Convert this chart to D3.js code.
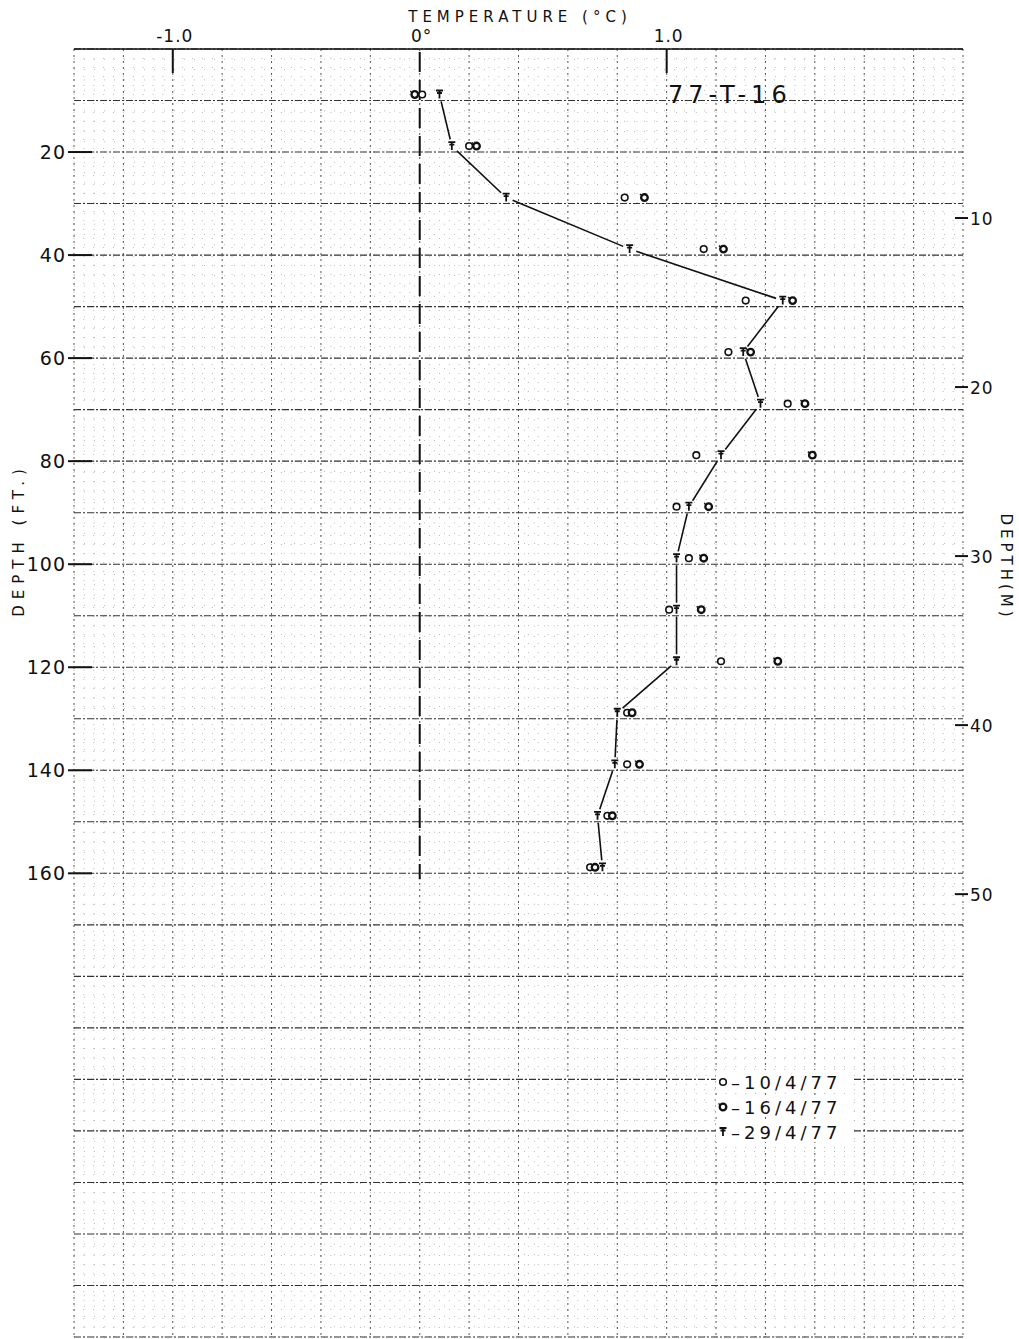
<!DOCTYPE html>
<html>
<head>
<meta charset="utf-8">
<script src="https://cdn.jsdelivr.net/npm/d3@7"></script>
<style>
  html, body { margin: 0; padding: 0; background: #fff; }
  svg { display: block; }
  text { font-family: "DejaVu Sans", "Liberation Sans", sans-serif; fill: #111; }
</style>
</head>
<body>
<svg id="chart" width="1019" height="1339"></svg>
<script>
// ---- data ----
const depthsFt = [10, 20, 30, 40, 50, 60, 70, 80, 90, 100, 110, 120, 130, 140, 150, 160];
const temp10Apr = [0.01, 0.20, 0.83, 1.15, 1.32, 1.25, 1.49, 1.12, 1.04, 1.09, 1.01, 1.22, 0.84, 0.84, 0.76, 0.69];
const temp16Apr = [-0.02, 0.23, 0.91, 1.23, 1.51, 1.34, 1.56, 1.59, 1.17, 1.15, 1.14, 1.45, 0.86, 0.89, 0.78, 0.71];
const temp29Apr = [0.08, 0.13, 0.35, 0.85, 1.47, 1.31, 1.38, 1.22, 1.09, 1.04, 1.04, 1.04, 0.80, 0.79, 0.72, 0.74];
const tempTicks = [-1.0, 0, 1.0];
const tempTickLabels = ["-1.0", "0°", "1.0"];
const depthFtTicks = [20, 40, 60, 80, 100, 120, 140, 160];
const depthMTicks = [10, 20, 30, 40, 50];
const legendLabels = ["10/4/77", "16/4/77", "29/4/77"];
const stationLabel = "77-T-16";

// ---- scales ----
const svg = d3.select("#chart");
const x = d3.scaleLinear().domain([-1.4, 2.2]).range([74, 963]);
const y = d3.scaleLinear().domain([0, 250]).range([49, 1337]);
const yM = d3.scaleLinear().domain([0, 250 * 0.3048]).range([49, 1337]);

// ---- graph paper grid ----
const grid = svg.append("g");
const minorX = d3.range(-1.4, 2.2001, 0.04);
const majorX = d3.range(-1.4, 2.2001, 0.2);
const minorY = d3.range(0, 250.01, 2);
const majorY = d3.range(0, 250.01, 10);

grid.selectAll(".mvx").data(minorX).join("line")
  .attr("x1", d => x(d)).attr("x2", d => x(d))
  .attr("y1", y(0)).attr("y2", y(250))
  .attr("stroke", "#aaa").attr("stroke-width", 0.8).attr("stroke-dasharray", "1,8");
grid.selectAll(".mhy").data(minorY).join("line")
  .attr("x1", x(-1.4)).attr("x2", x(2.2))
  .attr("y1", d => y(d)).attr("y2", d => y(d))
  .attr("stroke", "#aaa").attr("stroke-width", 0.8).attr("stroke-dasharray", "1,9");
grid.selectAll(".Mvx").data(majorX).join("line")
  .attr("x1", d => x(d)).attr("x2", d => x(d))
  .attr("y1", y(0)).attr("y2", y(250))
  .attr("stroke", "#555").attr("stroke-width", 1).attr("stroke-dasharray", "2,4");
grid.selectAll(".Mhy").data(majorY).join("line")
  .attr("x1", x(-1.4)).attr("x2", x(2.2))
  .attr("y1", d => y(d)).attr("y2", d => y(d))
  .attr("stroke", "#333").attr("stroke-width", 1.1).attr("stroke-dasharray", "7,2,2,2");
// top border
grid.append("line")
  .attr("x1", x(-1.4)).attr("x2", x(2.2)).attr("y1", y(0)).attr("y2", y(0))
  .attr("stroke", "#111").attr("stroke-width", 1.6);

// ---- zero isotherm dashed line ----
svg.append("line")
  .attr("x1", x(0)).attr("x2", x(0)).attr("y1", y(0) + 3).attr("y2", y(160) + 6)
  .attr("stroke", "#111").attr("stroke-width", 2).attr("stroke-dasharray", "20,8");

// ---- top temperature axis ----
const topAxis = svg.append("g");
topAxis.selectAll("line").data(tempTicks.filter(d => d !== 0)).join("line")
  .attr("x1", d => x(d)).attr("x2", d => x(d))
  .attr("y1", y(0)).attr("y2", y(0) + 24)
  .attr("stroke", "#111").attr("stroke-width", 2);
topAxis.selectAll("text").data(tempTicks).join("text")
  .attr("x", d => x(d) + 2).attr("y", 42)
  .attr("text-anchor", "middle").attr("font-size", 17).attr("letter-spacing", 1)
  .text((d, i) => tempTickLabels[i]);
svg.append("text")
  .attr("x", 520).attr("y", 22).attr("text-anchor", "middle")
  .attr("font-size", 15).attr("letter-spacing", 5)
  .text("TEMPERATURE (°C)");

// ---- left depth (ft) axis ----
const leftAxis = svg.append("g");
leftAxis.selectAll("line").data(depthFtTicks).join("line")
  .attr("x1", 68).attr("x2", 92)
  .attr("y1", d => y(d)).attr("y2", d => y(d))
  .attr("stroke", "#111").attr("stroke-width", 2);
leftAxis.selectAll("text").data(depthFtTicks).join("text")
  .attr("x", 66).attr("y", d => y(d) + 7)
  .attr("text-anchor", "end").attr("font-size", 19).attr("letter-spacing", 1)
  .text(d => d);
svg.append("text")
  .attr("transform", "translate(24,540) rotate(-90)")
  .attr("text-anchor", "middle").attr("font-size", 15).attr("letter-spacing", 6)
  .text("DEPTH (FT.)");

// ---- right depth (m) axis ----
const rightAxis = svg.append("g");
rightAxis.selectAll("line").data(depthMTicks).join("line")
  .attr("x1", 955).attr("x2", 968)
  .attr("y1", d => yM(d)).attr("y2", d => yM(d))
  .attr("stroke", "#111").attr("stroke-width", 2);
rightAxis.selectAll("text").data(depthMTicks).join("text")
  .attr("x", 970).attr("y", d => yM(d) + 7)
  .attr("text-anchor", "start").attr("font-size", 17).attr("letter-spacing", 1)
  .text(d => d);
svg.append("text")
  .attr("transform", "translate(1001,567) rotate(90)")
  .attr("text-anchor", "middle").attr("font-size", 15).attr("letter-spacing", 4)
  .text("DEPTH(M)");

// ---- station label ----
svg.append("text")
  .attr("x", 668).attr("y", 103).attr("font-size", 24).attr("letter-spacing", 5)
  .text(stationLabel);

// ---- symbols ----
function drawOpen(g) {
  g.append("circle").attr("r", 3.3).attr("fill", "#fff").attr("stroke", "#111").attr("stroke-width", 1.6);
}
function drawDot(g) {
  g.append("circle").attr("r", 3.3).attr("fill", "#fff").attr("stroke", "#111").attr("stroke-width", 2.3);
  g.append("line").attr("x1", -4.5).attr("y1", -3.5).attr("x2", -2).attr("y2", -1.5)
    .attr("stroke", "#111").attr("stroke-width", 1.4);
}
function drawT(g) {
  g.append("path").attr("d", "M-3.5,-4H3.5M-2.5,-1.5H2.5M0,-4V4")
    .attr("stroke", "#111").attr("stroke-width", 1.8).attr("fill", "none");
}

const marks = svg.append("g").attr("transform", "translate(0,-6)");

// connecting line for 29/4/77 with gaps near symbols
const pts29 = depthsFt.map((d, i) => [x(temp29Apr[i]), y(d)]);
const segs = d3.pairs(pts29).map(([a, b]) => {
  const dx = b[0] - a[0], dy = b[1] - a[1];
  const len = Math.hypot(dx, dy), gap = 7;
  return [a[0] + dx * gap / len, a[1] + dy * gap / len, b[0] - dx * gap / len, b[1] - dy * gap / len];
});
marks.selectAll(".seg").data(segs).join("line")
  .attr("x1", s => s[0]).attr("y1", s => s[1]).attr("x2", s => s[2]).attr("y2", s => s[3])
  .attr("stroke", "#111").attr("stroke-width", 1.6);

function plotSeries(values, drawer) {
  marks.append("g").selectAll("g").data(depthsFt).join("g")
    .attr("transform", (d, i) => `translate(${x(values[i])},${y(d)})`)
    .each(function () { drawer(d3.select(this)); });
}
plotSeries(temp10Apr, drawOpen);
plotSeries(temp16Apr, drawDot);
plotSeries(temp29Apr, drawT);

// ---- legend ----
const legend = svg.append("g");
const drawers = [drawOpen, drawDot, drawT];
legendLabels.forEach((lab, i) => {
  const ly = 1082 + i * 25;
  legend.append("rect").attr("x", 716).attr("y", ly - 12).attr("width", 136).attr("height", 22).attr("fill", "#fff");
  const g = legend.append("g").attr("transform", `translate(723,${ly})`);
  drawers[i](g);
  legend.append("text").attr("x", 731).attr("y", ly + 7)
    .attr("font-size", 18).attr("letter-spacing", 4)
    .text("–" + lab);
});
</script>
</body>
</html>
